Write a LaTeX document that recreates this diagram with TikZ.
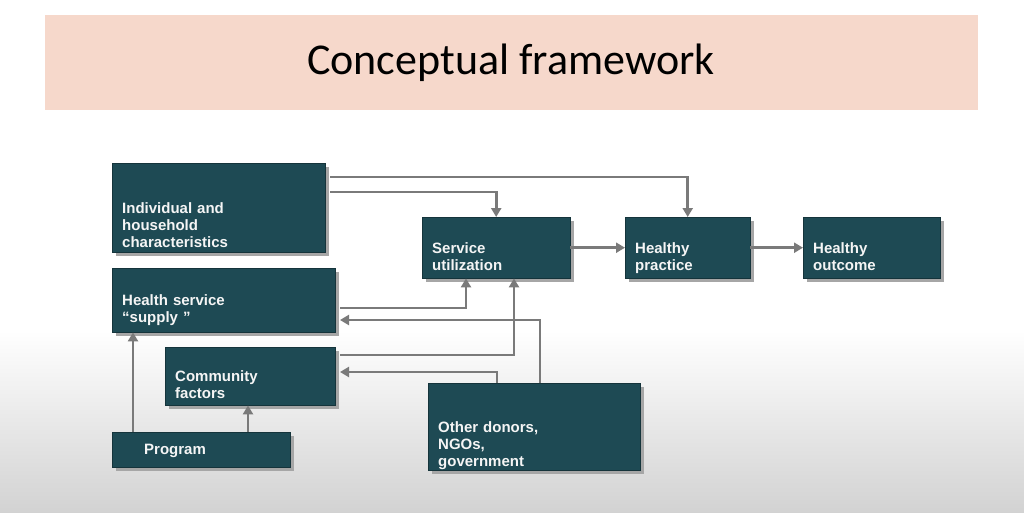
\documentclass[tikz,border=0pt]{standalone}
\usepackage{fontspec}
\setmainfont{Liberation Sans}
\newfontfamily\titlefont{Carlito}
\usetikzlibrary{shadows,arrows.meta}
\definecolor{boxc}{HTML}{1E4A54}
\definecolor{band}{HTML}{F6D8CB}
\definecolor{arr}{HTML}{7A7A7A}
\tikzset{
 bx/.style={draw=boxc!70!black,fill=boxc,text=white!92!gray,font=\bfseries\fontsize{15}{17}\selectfont,
   align=left,anchor=north west,inner sep=0pt,text depth=0pt,
   drop shadow={shadow xshift=4pt,shadow yshift=-4pt,fill=gray!70,opacity=1}},
 ar/.style={draw=arr,line width=2.6pt,-{Triangle[length=9pt,width=10pt]}},
}
\begin{document}
\begin{tikzpicture}[x=1pt,y=-1pt]
\shade[top color=white,bottom color=white] (0,0) rectangle (1024,330);
\shade[top color=white,bottom color=gray!35] (0,330) rectangle (1024,512);
\useasboundingbox (0,0) rectangle (1024,512);
\fill[band] (45,15) rectangle (978,110);
\node[font=\titlefont\fontsize{44}{48}\selectfont] (T) at (511,63) {Conceptual framework};
\newcommand\mkbox[6]{\node[bx,minimum width=#4-#2,minimum height=#5-#3,text width=#4-#2-20] (#1) at (#2,#3) {#6};}
\mkbox{A}{112}{163}{325}{252}{Individual and\\household\\characteristics}
\mkbox{B}{422}{217}{570}{278}{Service\\utilization}
\mkbox{C}{625}{217}{750}{278}{Healthy\\practice}
\mkbox{D}{803}{217}{940}{278}{Healthy\\outcome}
\mkbox{E}{112}{268}{335}{332}{Health service\\``supply ''}
\mkbox{F}{165}{347}{335}{405}{Community\\factors}
\mkbox{G}{112}{432}{290}{467}{\hspace*{22pt}Program}
\mkbox{H}{428}{383}{640}{470}{Other donors,\\NGOs,\\government}
\coordinate (a1) at (330,177); \coordinate (a2) at (330,192);
\coordinate (e1) at (340,308); \coordinate (f1) at (340,355);
\coordinate (e2) at (340,320); \coordinate (f2) at (340,372);
\draw[ar] (a1) -| (C.north);
\draw[ar] (a2) -| (B.north);
\draw[ar] (B) -- (C);
\draw[ar] (C) -- (D);
\draw[ar] (e1) -| (B.south -| 466,0);
\draw[ar] (f1) -| (B.south -| 514,0);
\draw[ar] (H.north -| 540,0) |- (e2);
\draw[ar] (H.north -| 497,0) |- (f2);
\draw[ar] (G.north -| 133,0) -- (E.south -| 133,0);
\draw[ar] (G.north -| 248,0) -- (F.south -| 248,0);
\end{tikzpicture}
\end{document}
